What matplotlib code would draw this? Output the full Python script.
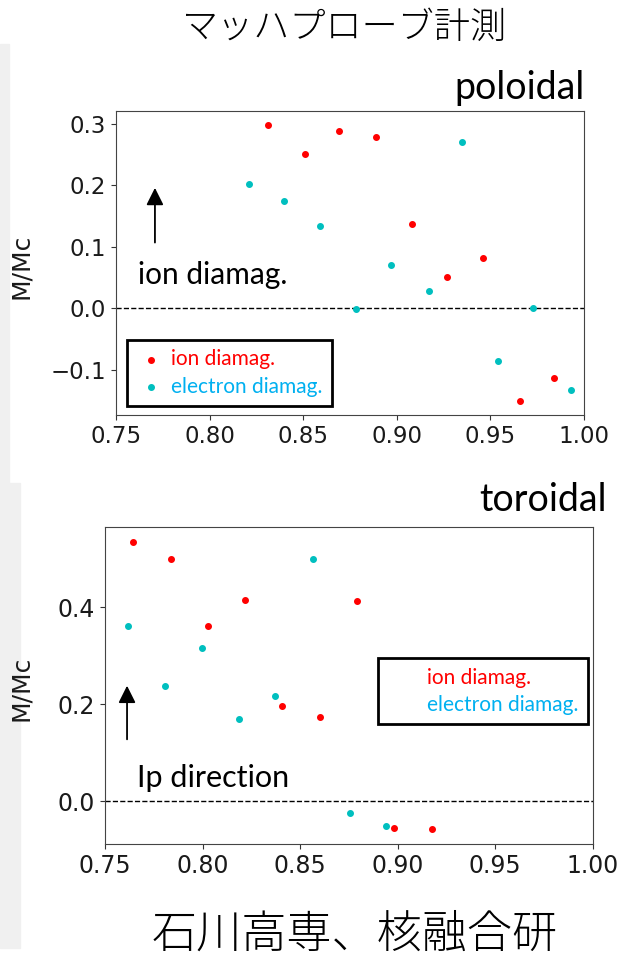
import matplotlib.pyplot as plt
from matplotlib.patches import Rectangle
from matplotlib.lines import Line2D

# poloidal (top panel)
pol_ion_x = [0.831, 0.851, 0.869, 0.889, 0.908, 0.927, 0.946, 0.966, 0.984]
pol_ion_y = [0.297, 0.250, 0.288, 0.279, 0.136, 0.050, 0.082, -0.152, -0.113]
pol_ele_x = [0.821, 0.840, 0.859, 0.878, 0.897, 0.917, 0.935, 0.954, 0.973, 0.993]
pol_ele_y = [0.202, 0.174, 0.134, -0.002, 0.070, 0.028, 0.270, -0.086, 0.000, -0.134]

# toroidal (bottom panel)
tor_ion_x = [0.7645, 0.784, 0.8026, 0.822, 0.8407, 0.8602, 0.879, 0.8984, 0.9174]
tor_ion_y = [0.535, 0.500, 0.361, 0.415, 0.197, 0.173, 0.412, -0.054, -0.057]
tor_ele_x = [0.7616, 0.781, 0.7997, 0.8185, 0.837, 0.8565, 0.8754, 0.8942]
tor_ele_y = [0.361, 0.238, 0.317, 0.170, 0.218, 0.500, -0.024, -0.051]

xticks = [0.75, 0.80, 0.85, 0.90, 0.95, 1.00]
pol_yticks = [-0.1, 0.0, 0.1, 0.2, 0.3]
tor_yticks = [0.0, 0.2, 0.4]

RED = '#ff0000'
CYAN = '#00bfbf'
BLUE_TXT = '#00b0f0'
W, H = 618, 963


def fx(px):
    return px / W


def fy(py):
    return 1 - py / H


fig = plt.figure(figsize=(6.18, 9.63), dpi=100)

# gray bands on the left edge
fig.add_artist(Rectangle((0, fy(483)), fx(9), fy(44) - fy(483),
                         transform=fig.transFigure, color='#f0f0f0', zorder=0))
fig.add_artist(Rectangle((0, fy(948)), fx(20), fy(483) - fy(948),
                         transform=fig.transFigure, color='#f0f0f0', zorder=0))

ax1 = fig.add_axes([fx(116), fy(415), fx(584) - fx(116), fy(110.7) - fy(415)])
ax2 = fig.add_axes([fx(105), fy(844), fx(592.7) - fx(105), fy(526.7) - fy(844)])

s1 = ax1.scatter(pol_ion_x, pol_ion_y, s=16, color=RED, label='ion diamag.', zorder=3)
s2 = ax1.scatter(pol_ele_x, pol_ele_y, s=16, color=CYAN, label='electron diamag.', zorder=3)
ax2.scatter(tor_ion_x, tor_ion_y, s=16, color=RED, zorder=3)
ax2.scatter(tor_ele_x, tor_ele_y, s=16, color=CYAN, zorder=3)

for ax, yt, ylim, fs in [(ax1, pol_yticks, (-0.174, 0.321), 16.5),
                         (ax2, tor_yticks, (-0.088, 0.566), 17)]:
    ax.set_xlim(0.75, 1.00)
    ax.set_ylim(*ylim)
    ax.set_xticks(xticks)
    ax.set_yticks(yt)
    ax.axhline(0, color='black', lw=1, ls='--', zorder=1)
    ax.tick_params(labelsize=fs, colors='#333333', labelcolor='#1a1a1a')
    for sp in ax.spines.values():
        sp.set_color('#444444')
    ax.set_ylabel('M/Mc', fontsize=18, color='#1a1a1a')

ax1.yaxis.set_label_coords(-0.177, 0.49)
ax2.yaxis.set_label_coords(-0.148, 0.49)

# arrows
ax1.annotate('', xy=(0.7708, 0.200), xytext=(0.7708, 0.102),
             arrowprops=dict(arrowstyle='-|>', mutation_scale=26, color='black', lw=1.3))
ax2.annotate('', xy=(0.7613, 0.244), xytext=(0.7613, 0.122),
             arrowprops=dict(arrowstyle='-|>', mutation_scale=26, color='black', lw=1.3))

# legends
leg1 = ax1.legend(handles=[s1, s2], loc='lower left',
                  bbox_to_anchor=(fx(126.7), fy(406)), bbox_transform=fig.transFigure,
                  borderaxespad=0, prop={'family': 'Lato', 'size': 15},
                  handlelength=1.4, handletextpad=0.3, borderpad=0.45, labelspacing=0.35,
                  fancybox=False, framealpha=1, edgecolor='black')
leg1.get_frame().set_linewidth(2)
for t, c in zip(leg1.get_texts(), [RED, BLUE_TXT]):
    t.set_color(c)

blank = [Line2D([], [], ls='none'), Line2D([], [], ls='none')]
leg2 = ax2.legend(blank, ['ion diamag.', 'electron diamag.'], loc='upper left',
                  bbox_to_anchor=(fx(378.3), fy(658.3)), bbox_transform=fig.transFigure,
                  borderaxespad=0, prop={'family': 'Lato', 'size': 15},
                  handlelength=1.6, handletextpad=0.3, borderpad=0.45, labelspacing=0.35,
                  fancybox=False, framealpha=1, edgecolor='black')
leg2.get_frame().set_linewidth(2)
for t, c in zip(leg2.get_texts(), [RED, BLUE_TXT]):
    t.set_color(c)

# overlay texts
fig.text(fx(345), fy(28), 'マッハプローブ計測', ha='center', va='center',
         family=['Noto Sans CJK JP', 'DejaVu Sans'], fontsize=26, weight='light')
fig.text(fx(585), fy(88), 'poloidal', ha='right', va='center', family='Lato', fontsize=27)
fig.text(fx(607), fy(500), 'toroidal', ha='right', va='center', family='Lato', fontsize=27)
fig.text(fx(138), fy(275), 'ion diamag.', ha='left', va='center', family='Lato', fontsize=21.5)
fig.text(fx(137), fy(778), 'Ip direction', ha='left', va='center', family='Lato', fontsize=22)
fig.text(fx(355), fy(935), '石川高専、核融合研', ha='center', va='center',
         family=['Noto Sans CJK JP', 'DejaVu Sans'], fontsize=32.5, weight='light')

fig.savefig('out.png', dpi=100)
